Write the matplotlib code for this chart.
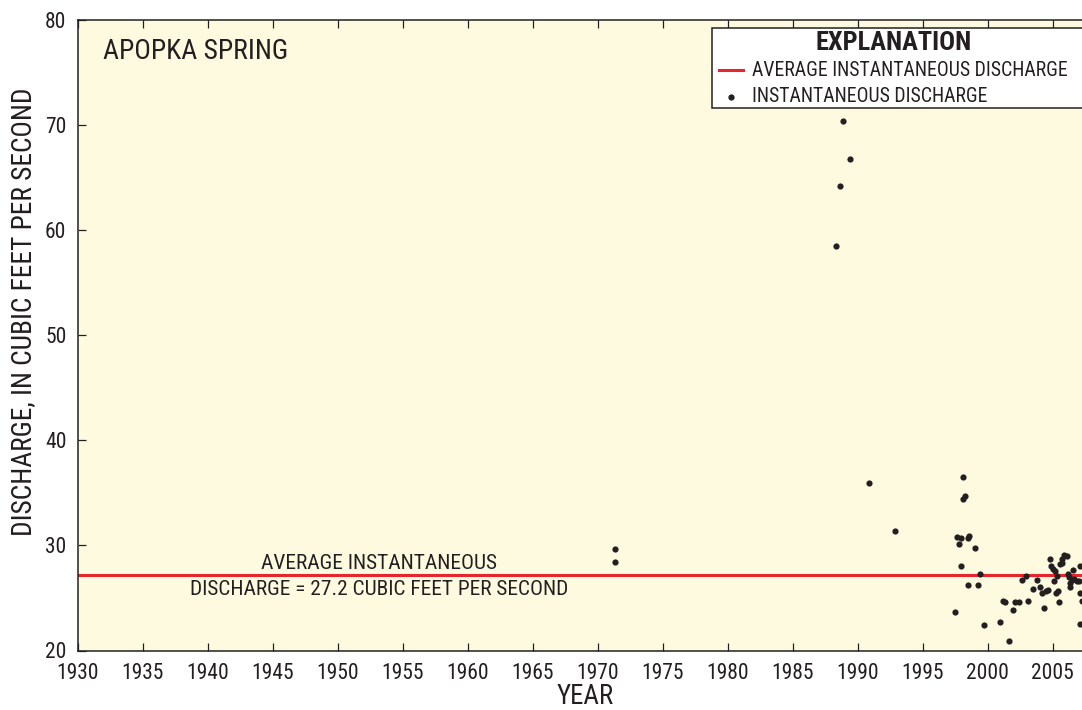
import matplotlib
matplotlib.use("Agg")
import matplotlib.pyplot as plt
from matplotlib import font_manager
from matplotlib.patches import Rectangle
from matplotlib.lines import Line2D

# pick a narrow sans if one is installed
fonts = font_manager.fontManager.ttflist
names = {f.name for f in fonts}
family, stretch = 'Roboto', 'normal'
for cand in ['Liberation Sans Narrow', 'Roboto Condensed', 'Arial Narrow', 'Open Sans Condensed']:
    if cand in names:
        family = cand
        break
else:
    for f in fonts:
        if f.name in ('DejaVu Sans', 'Noto Sans', 'Open Sans') and f.stretch == 'condensed':
            family, stretch = f.name, 'condensed'
            break
plt.rcParams['font.family'] = [family, 'DejaVu Sans']
plt.rcParams['font.stretch'] = stretch

INK = '#231f20'
RED = '#e8252c'
PAPER = '#fefae0'

# Apopka Spring instantaneous discharge measurements
years = [1971.35, 1971.35,
         1988.35, 1988.63, 1988.88, 1989.42, 1990.86, 1992.90,
         1997.48, 1997.68, 1997.81, 1997.94, 1997.94, 1998.10, 1998.14,
         1998.27, 1998.48, 1998.48, 1998.60, 1999.04, 1999.29, 1999.42,
         1999.71, 2000.99, 2001.17, 2001.37, 2001.65, 2001.94, 2002.14,
         2002.40, 2002.68, 2002.94, 2003.14, 2003.50, 2003.81, 2004.04,
         2004.17, 2004.35, 2004.48, 2004.68, 2004.78, 2004.86, 2005.00,
         2005.09, 2005.17, 2005.25, 2005.35, 2005.45, 2005.50, 2005.58,
         2005.71, 2005.75, 2005.90, 2006.09, 2006.17, 2006.27, 2006.35,
         2006.35, 2006.48, 2006.58, 2006.65, 2006.86, 2007.04, 2007.10,
         2007.14, 2007.14, 2007.30]
discharge = [29.7, 28.4,
             58.5, 64.2, 70.4, 66.8, 35.9, 31.4,
             23.7, 30.8, 30.1, 30.7, 28.0, 34.4, 36.5,
             34.7, 30.7, 26.2, 30.9, 29.8, 26.2, 27.3,
             22.4, 22.7, 24.7, 24.6, 20.9, 23.9, 24.6,
             24.6, 26.7, 27.1, 24.7, 25.9, 26.7, 26.0,
             25.5, 24.0, 25.7, 25.8, 28.7, 28.0, 27.8,
             26.6, 27.6, 25.5, 27.1, 25.7, 24.6, 28.2,
             28.3, 28.7, 29.1, 29.0, 27.3, 27.0, 26.4,
             26.0, 26.7, 27.7, 26.8, 26.6, 26.6, 25.5,
             28.0, 22.5, 24.7]
average = 27.2

x_ticks = list(range(1930, 2010, 5))
y_ticks = list(range(20, 90, 10))

W, H = 1082, 710
fig = plt.figure(figsize=(W / 100, H / 100), dpi=100)
# axes run on to 2010, past the right edge of the sheet
left, right, top, bottom = 77.5, 77.5 + 80 * 13, 20.0, 650.5
ax = fig.add_axes([left / W, 1 - bottom / H, (right - left) / W, (bottom - top) / H])
ax.set_facecolor(PAPER)
ax.set_xlim(1930, 2010)
ax.set_ylim(20, 80)
ax.set_xticks(x_ticks)
ax.set_yticks(y_ticks)
for s in ax.spines.values():
    s.set_linewidth(1.1)
    s.set_color(INK)
ax.tick_params(direction='in', length=6, width=0.9, color=INK, labelcolor=INK,
               labelsize=15.5, top=True, right=False)
ax.tick_params(axis='x', pad=9)
ax.tick_params(axis='y', pad=8)

ax.axhline(average, color=RED, lw=2.2, zorder=2)
ax.scatter(years, discharge, s=20, color=INK, lw=0, zorder=3)

ax.text(1953.2, average + 1.1, 'AVERAGE INSTANTANEOUS', ha='center', va='center',
        fontsize=15.4, color=INK)
ax.text(1953.2, average - 1.4, 'DISCHARGE = %.1f CUBIC FEET PER SECOND' % average,
        ha='center', va='center', fontsize=15.4, color=INK)
ax.text(1931.95, 77.0, 'APOPKA SPRING', ha='left', va='center', fontsize=19.9, color=INK)

# explanation box
def px(x, y):
    return x / W, 1 - y / H

fig.patches.append(Rectangle(px(712, 108), (1084 - 712) / W, 80 / H,
                             transform=fig.transFigure, facecolor='white',
                             edgecolor=INK, lw=1.1, zorder=5))
fig.text(*px(894, 43), 'EXPLANATION', ha='center', va='center', fontsize=19,
         fontweight='bold', color=INK, zorder=6)
fig.lines.append(Line2D([719 / W, 743 / W], [1 - 69.5 / H] * 2, transform=fig.transFigure,
                        color=RED, lw=2.2, zorder=6))
fig.lines.append(Line2D([731 / W], [1 - 96.7 / H], transform=fig.transFigure, marker='o',
                        ms=4.5, mew=0, color=INK, lw=0, zorder=6))
fig.text(*px(752, 70), 'AVERAGE INSTANTANEOUS DISCHARGE', ha='left', va='center',
         fontsize=14.2, color=INK, zorder=6)
fig.text(*px(752, 96.5), 'INSTANTANEOUS DISCHARGE', ha='left', va='center',
         fontsize=14.2, color=INK, zorder=6)

fig.text(*px(585, 697), 'YEAR', ha='center', va='center', fontsize=19.4, color=INK)
fig.text(*px(24, 311.5), 'DISCHARGE, IN CUBIC FEET PER SECOND', rotation=90,
         ha='center', va='center', fontsize=19.7, color=INK)

fig.savefig('out.png', dpi=100, facecolor='white')
